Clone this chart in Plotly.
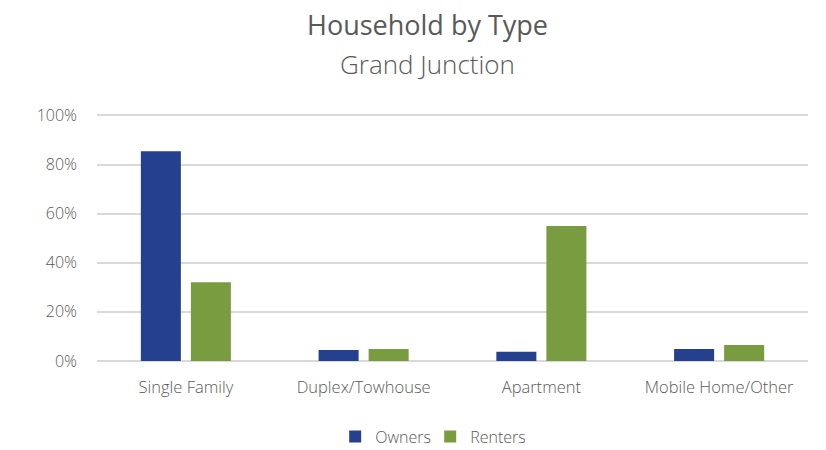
import plotly.graph_objects as go

categories = ["Single Family", "Duplex/Towhouse", "Apartment", "Mobile Home/Other"]
owners = [0.854, 0.045, 0.038, 0.049]
renters = [0.321, 0.049, 0.550, 0.065]
y_ticks = [0, 0.2, 0.4, 0.6, 0.8, 1.0]
y_tick_labels = ["0%", "20%", "40%", "60%", "80%", "100%"]

FONT = "Open Sans"
TEXT = "#595959"

fig = go.Figure()
fig.add_trace(go.Bar(name="Owners", x=categories, y=owners,
                     marker=dict(color="#25408F", line=dict(width=0))))
fig.add_trace(go.Bar(name="Renters", x=categories, y=renters,
                     marker=dict(color="#7A9C41", line=dict(width=0))))

fig.update_layout(
    width=826, height=450,
    margin=dict(l=97, r=18, t=113, b=89, autoexpand=False),
    paper_bgcolor="white", plot_bgcolor="white",
    barmode="group", bargap=0.437, bargroupgap=0.2,
    font=dict(family=FONT, color=TEXT, size=16, weight=300),
    showlegend=True,
    legend=dict(orientation="h", x=0.335, xanchor="left", y=-0.305, yanchor="middle",
                font=dict(size=16, color=TEXT, weight=300), itemwidth=30,
                entrywidth=50, traceorder="normal"),
    annotations=[
        dict(text="Household by Type", xref="paper", yref="paper", x=0.4655, y=1.0,
             yshift=89, showarrow=False,
             font=dict(size=27, color="#595959", family=FONT, weight=500),
             xanchor="center", yanchor="middle"),
        dict(text="Grand Junction", xref="paper", yref="paper", x=0.4655, y=1.0,
             yshift=49, showarrow=False,
             font=dict(size=26, color="#595959", family=FONT, weight=300),
             xanchor="center", yanchor="middle"),
    ],
)
fig.update_xaxes(showgrid=False, showline=False, ticks="", ticklabelstandoff=14,
                 tickfont=dict(size=16.5, color=TEXT, weight=300))
fig.update_yaxes(range=[0, 1.01], tickvals=y_ticks, ticktext=y_tick_labels,
                 showgrid=True, gridcolor="#D9D9D9", gridwidth=1.5,
                 zeroline=True, zerolinecolor="#D9D9D9", zerolinewidth=1.5,
                 showline=False, ticks="", ticklabelstandoff=19,
                 tickfont=dict(size=16, color=TEXT, weight=300))

fig.write_html("out.html")
